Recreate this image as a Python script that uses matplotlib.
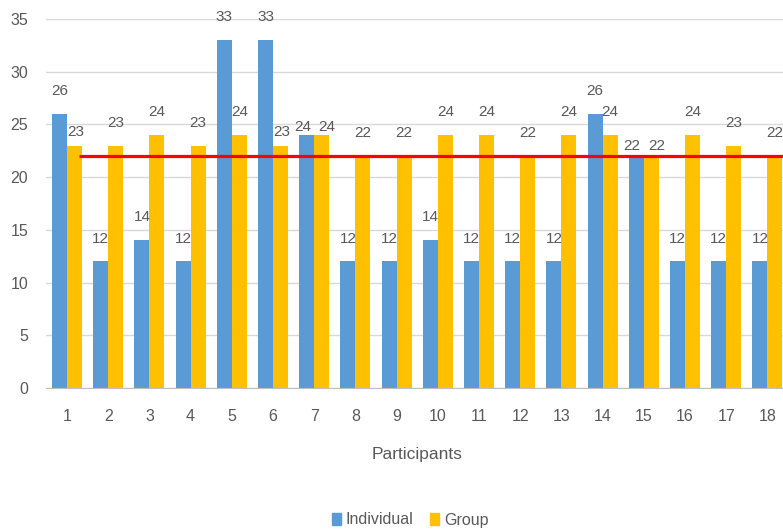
import matplotlib
matplotlib.use("Agg")
import matplotlib.pyplot as plt
from matplotlib.patches import Patch
import numpy as np

participants = [str(i) for i in range(1, 19)]
individual = [26, 12, 14, 12, 33, 33, 24, 12, 12, 14, 12, 12, 12, 26, 22, 12, 12, 12]
group = [23, 23, 24, 23, 24, 23, 24, 22, 22, 24, 24, 22, 24, 24, 22, 24, 23, 22]
threshold = 22
y_ticks = [0, 5, 10, 15, 20, 25, 30, 35]

plt.rcParams['font.family'] = ['Liberation Sans Narrow', 'Liberation Sans', 'DejaVu Sans']

BLUE = '#5B9BD5'
YELLOW = '#FFC000'
TXT = '#595959'
GRID = '#D9D9D9'

W, H = 783, 532
fig = plt.figure(figsize=(W / 100, H / 100), dpi=100)
left_px, right_px, top_px, bot_px = 46.4, 788.0, 19.0, 388.0
ax = fig.add_axes([left_px / W, 1 - bot_px / H, (right_px - left_px) / W, (bot_px - top_px) / H])

x = np.arange(1, len(participants) + 1)
bw = 0.365
b1 = ax.bar(x - bw / 2, individual, width=bw, color=BLUE, zorder=2)
b2 = ax.bar(x + bw / 2, group, width=bw, color=YELLOW, zorder=2)

ax.hlines(threshold, 1.3, 19, colors='#FF0000', linewidth=2.3, zorder=3)

ax.set_xlim(0.5, 18.5)
ax.set_ylim(0, 35)
ax.set_yticks(y_ticks)
ax.set_xticks(x)
ax.set_xticklabels(participants)
ax.grid(axis='y', color=GRID, linewidth=1.0, zorder=0)
ax.set_axisbelow(True)
for s in ['top', 'right', 'left']:
    ax.spines[s].set_visible(False)
ax.spines['bottom'].set_color('#BFBFBF')
ax.tick_params(axis='both', length=0, labelsize=11.5, colors=TXT)
ax.tick_params(axis='y', pad=13)
ax.tick_params(axis='x', pad=15)

ax.set_xlabel('Participants', fontsize=12.5, color=TXT)
ax.xaxis.set_label_coords(0.5, -(455 - 388) / (bot_px - top_px))
ax.xaxis.label.set_va('center')

# label offsets in points (dx, dy of label center from bar top); a few were nudged in the original
default_off = (0, 16.5)
special = {(0, 1): (1, 9.5), (5, 1): (1, 9.5), (6, 0): (-2.5, 6), (6, 1): (3.5, 6),
           (14, 0): (-3.5, 7), (14, 1): (4, 7)}
for si, (bars, vals) in enumerate([(b1, individual), (b2, group)]):
    for i, (r, v) in enumerate(zip(bars, vals)):
        off = special.get((i, si), default_off)
        ax.annotate(str(v), (r.get_x() + r.get_width() / 2, v), xytext=off,
                    textcoords='offset points', ha='center', va='center',
                    fontsize=11, color=TXT, annotation_clip=False)

handles = [Patch(color=BLUE, label='Individual'), Patch(color=YELLOW, label='Group')]
fig.legend(handles=handles, loc='center', bbox_to_anchor=(410 / W, 1 - 520 / H), ncol=2,
           frameon=False, fontsize=11.5, handlelength=0.6, handleheight=0.8,
           handletextpad=0.3, columnspacing=1.0, labelcolor=TXT)

fig.savefig('out.png', dpi=100)
